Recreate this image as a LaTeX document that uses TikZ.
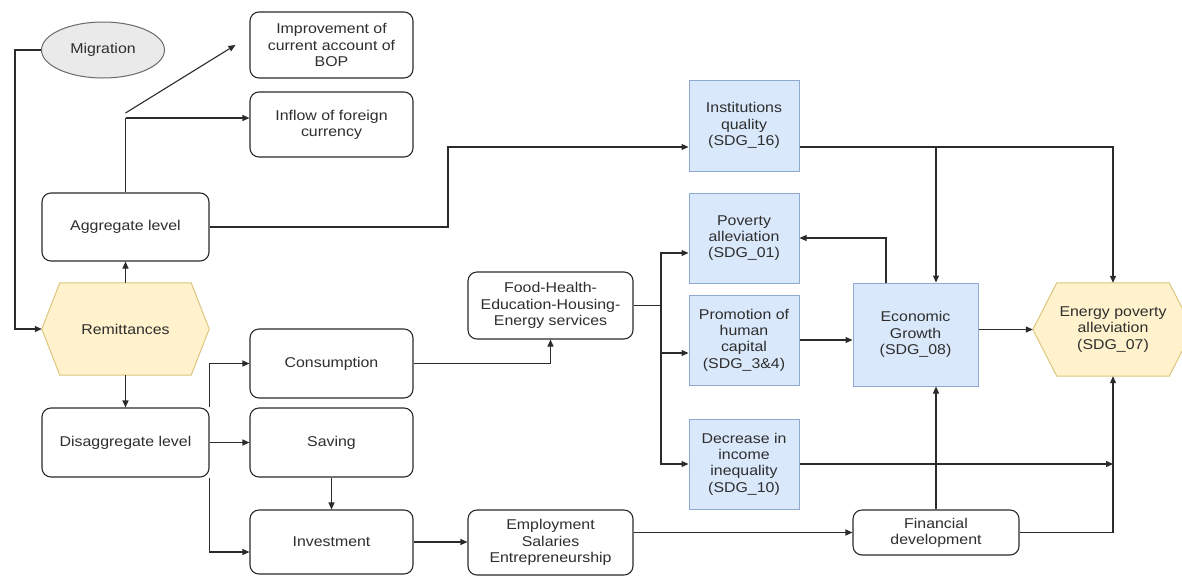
\documentclass[tikz,border=0pt]{standalone}
\usepackage{fontspec}
\setmainfont{Liberation Sans}[FakeStretch=1.12]
\usetikzlibrary{arrows.meta,shapes.geometric,backgrounds,calc}
\definecolor{linec}{HTML}{2B2B2B}
\definecolor{txtc}{HTML}{2E2E2E}
\definecolor{bluefill}{HTML}{DAE8FC}
\definecolor{blueline}{HTML}{8FA9CF}
\definecolor{yelfill}{HTML}{FFF2CC}
\definecolor{yelline}{HTML}{DCC77E}
\definecolor{grayfill}{HTML}{EAEAEA}
\definecolor{grayline}{HTML}{6A6A6A}
\begin{document}
\begin{tikzpicture}[x=1pt,y=-1pt,
  font=\fontsize{14.2}{16.3}\selectfont,
  every node/.style={text=txtc,align=center,inner sep=2pt},
  rbox/.style={draw=linec,line width=1.1pt,rounded corners=9pt,fill=white},
  sdgbox/.style={draw=blueline,line width=1pt,fill=bluefill},
  hexnode/.style={draw=none},
  oval/.style={ellipse,draw=grayline,line width=1pt,fill=grayfill,inner sep=0pt},
  arr/.style={draw=linec,line width=1.1pt,-{Triangle[length=7pt,width=6pt]}},
  conn/.style={draw=linec,line width=1.1pt}]
\useasboundingbox (0,0) rectangle (1182,576);

% left column
\node[oval,minimum width=123pt,minimum height=56pt] (mig) at (103,50) {Migration};
\node[rbox,minimum width=167pt,minimum height=68pt] (agg) at (125.5,227) {Aggregate level};
\node[hexnode,minimum width=167pt,minimum height=92pt] (rem) at (125.5,329) {Remittances};
\node[rbox,minimum width=167pt,minimum height=69pt] (dis) at (125.5,442.5) {Disaggregate level};

% second column
\node[rbox,minimum width=163pt,minimum height=66pt] (imp) at (331.5,45) {Improvement of\\current account of\\BOP};
\node[rbox,minimum width=163pt,minimum height=65pt] (inf) at (331.5,124.5) {Inflow of foreign\\currency};
\node[rbox,minimum width=163pt,minimum height=69pt] (con) at (331.5,363.5) {Consumption};
\node[rbox,minimum width=163pt,minimum height=69pt] (sav) at (331.5,442.5) {Saving};
\node[rbox,minimum width=163pt,minimum height=64pt] (inv) at (331.5,542) {Investment};

% third column
\node[rbox,minimum width=165pt,minimum height=67pt] (food) at (550.5,305.5) {Food-Health-\\Education-Housing-\\Energy services};
\node[rbox,minimum width=165pt,minimum height=65pt] (emp) at (550.5,542.5) {Employment\\Salaries\\Entrepreneurship};

% SDG column
\node[sdgbox,minimum width=110pt,minimum height=91pt] (inst) at (744,125.5) {Institutions\\quality\\(SDG\_16)};
\node[sdgbox,minimum width=110pt,minimum height=90pt] (pov) at (744,238) {Poverty\\alleviation\\(SDG\_01)};
\node[sdgbox,minimum width=110pt,minimum height=90pt] (pro) at (744,340) {Promotion of\\human\\capital\\(SDG\_3\&4)};
\node[sdgbox,minimum width=110pt,minimum height=90pt] (dec) at (744,464) {Decrease in\\income\\inequality\\(SDG\_10)};

% right part
\node[sdgbox,minimum width=125pt,minimum height=103pt] (eco) at (915.5,334.5) {Economic\\Growth\\(SDG\_08)};
\node[rbox,minimum width=166pt,minimum height=45pt] (fin) at (936,532.5) {Financial\\development};
\node[hexnode,minimum width=160pt,minimum height=93pt] (ene) at (1113,329.5) {Energy poverty\\alleviation\\(SDG\_07)};

% page background and hexagon outlines behind the text
\begin{scope}[on background layer]
  \fill[white] (0,0) rectangle (1182,576);
  \draw[draw=yelline,line width=1pt,fill=yelfill]
    (rem.west) -- ([xshift=18pt]rem.north west) -- ([xshift=-18pt]rem.north east)
    -- (rem.east) -- ([xshift=-18pt]rem.south east) -- ([xshift=18pt]rem.south west) -- cycle;
  \draw[draw=yelline,line width=1pt,fill=yelfill]
    (ene.west) -- ([xshift=24pt]ene.north west) -- ([xshift=-24pt]ene.north east)
    -- (ene.east) -- ([xshift=-24pt]ene.south east) -- ([xshift=24pt]ene.south west) -- cycle;
\end{scope}

% helper coordinates
\coordinate (mL) at (15,0);
\coordinate (brA) at (125.5,118);
\coordinate (brB) at (125.5,113);
\coordinate (aggK) at (448,0);
\coordinate (fb) at (661,305.5);
\coordinate (ia) at ($(inst.east)+(0,21.5)$);

% migration to remittances
\draw[arr] (mig.west) -- (mig.west -| mL) |- (rem.west);

% remittances levels
\draw[arr] (rem.north) -- (agg.south);
\draw[arr] (rem.south) -- (dis.north);

% aggregate level branches
\draw[conn] (agg.north) -- (brA);
\draw[arr] (brA) -- (brA -| inf.west);
\draw[arr] (brB) -- ([xshift=-14pt]imp.west);
\draw[arr] (agg.east) -- (agg.east -| aggK) |- ([yshift=-21.5pt]inst.west);

% disaggregate level branches
\draw[arr] (dis.north east) |- (con.west);
\draw[arr] (dis.east) -- (sav.west);
\draw[arr] (dis.south east) |- ([yshift=-10pt]inv.west);
\draw[arr] (sav.south) -- (inv.north);

% consumption chain
\draw[arr] (con.east) -| (food.south);
\draw[conn] (food.east) -- (fb);
\draw[arr] (fb) |- ([yshift=-15pt]pov.west);
\draw[arr] (fb) |- ([yshift=-13pt]pro.west);
\draw[arr] (fb) |- (dec.west);

% institutions quality outputs
\draw[arr] (ia) -| (ene.north);
\draw[arr] (ia -| fin.north) -- (eco.north -| fin.north);

% economic growth links
\draw[arr] ([xshift=-29.5pt]eco.north) |- (pov.east);
\draw[arr] (pro.east) -- (pro.east -| eco.west);
\draw[arr] (eco.east |- ene.west) -- (ene.west);
\draw[arr] (dec.east) -- (dec.east -| ene.south);

% investment chain
\draw[arr] (inv.east) -- (inv.east -| emp.west);
\draw[arr] (emp.east |- fin.west) -- (fin.west);
\draw[arr] (fin.north) -- (fin.north |- eco.south);
\draw[arr] (fin.east) -| (ene.south);
\end{tikzpicture}
\end{document}
